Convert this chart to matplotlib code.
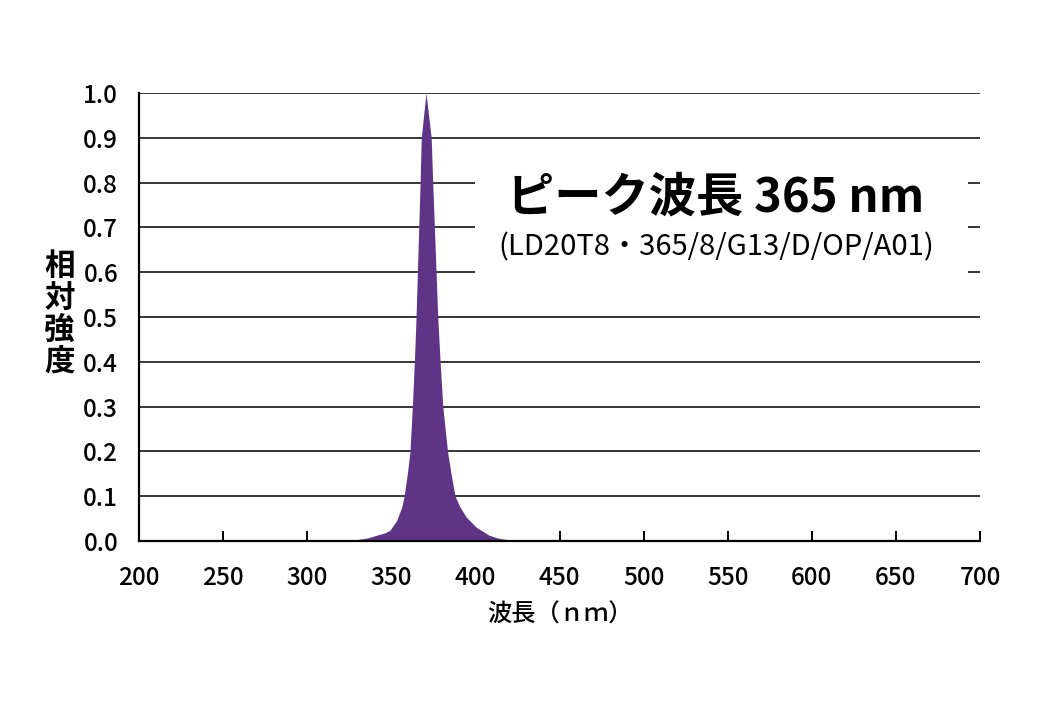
import matplotlib
matplotlib.use('Agg')
import matplotlib.pyplot as plt
from matplotlib.patches import Rectangle

plt.rcParams['font.family'] = ['Noto Sans CJK JP', 'DejaVu Sans']

# spectrum (wavelength nm, relative intensity)
wavelength = [200, 205, 210, 215, 220, 230, 240, 250, 290, 295, 300, 320,
              325, 329.4, 336, 341.3, 346, 349.2, 353.2, 356.2, 357.6, 359.5,
              361.1, 362.5, 363.7, 364.7, 365.5, 366.3, 367.1, 367.8, 370.6,
              373.7, 374.6, 375.6, 376.6, 377.6, 379.0, 380.6, 383.4, 385.5,
              387.9, 390.8, 394.4, 400.4, 408.1, 413, 418.6, 425, 450, 500,
              600, 700]
intensity = [0.0, 0.002, 0.001, 0.003, 0.001, 0.002, 0.001, 0.0, 0.0, 0.002,
             0.0, 0.0, 0.001, 0.003, 0.007, 0.013, 0.018, 0.024, 0.046, 0.076,
             0.10, 0.15, 0.20, 0.30, 0.40, 0.50, 0.60, 0.70, 0.80, 0.90, 1.00,
             0.90, 0.80, 0.70, 0.60, 0.50, 0.40, 0.30, 0.20, 0.15, 0.10, 0.076,
             0.054, 0.031, 0.013, 0.007, 0.003, 0.0, 0.0, 0.0, 0.0, 0.0]

xticks = list(range(200, 701, 50))
yticks = [i / 10 for i in range(11)]

title = 'ピーク波長 365 nm'
subtitle = '(LD20T8・365/8/G13/D/OP/A01)'

fig = plt.figure(figsize=(10.4, 7.06), dpi=100)
ax = fig.add_axes([0.1337, 0.2337, 0.8086, 0.6346])

for y in yticks[1:]:
    ax.axhline(y, color='black', lw=1.1, zorder=1)

ax.fill_between(wavelength, intensity, 0, color='#5f3487', lw=0, zorder=2)

ax.set_xlim(200, 700)
ax.set_ylim(0, 1.0)
ax.set_xticks(xticks)
ax.set_yticks(yticks)
ax.set_yticklabels([f'{v:.1f}' for v in yticks])

for s in ['top', 'right']:
    ax.spines[s].set_visible(False)
for s in ['left', 'bottom']:
    ax.spines[s].set_linewidth(1.6)
    ax.spines[s].set_zorder(4)

ax.tick_params(axis='x', direction='in', length=7, width=1.4, pad=17,
               labelsize=17.5)
ax.tick_params(axis='y', length=0, pad=15, labelsize=17.5)
for lbl in ax.get_xticklabels() + ax.get_yticklabels():
    lbl.set_fontweight('medium')

# white box behind the title
ax.add_patch(Rectangle((0.3995, 0.5915), 0.5862, 0.2232, transform=ax.transAxes,
                       facecolor='white', edgecolor='none', zorder=3))
ax.text(0.686, 0.766, title, transform=ax.transAxes, ha='center', va='center',
        fontsize=34, fontweight='bold', zorder=5)
ax.text(0.686, 0.655, subtitle, transform=ax.transAxes, ha='center',
        va='center', fontsize=21, zorder=5)

ax.set_xlabel('波長（ｎｍ）', fontsize=17.5, fontweight='medium', labelpad=8)
fig.text(0.057, 0.555, '相\n対\n強\n度', ha='center', va='center',
         fontsize=22, fontweight='bold', linespacing=1.0)

fig.savefig('out.png', dpi=100)
